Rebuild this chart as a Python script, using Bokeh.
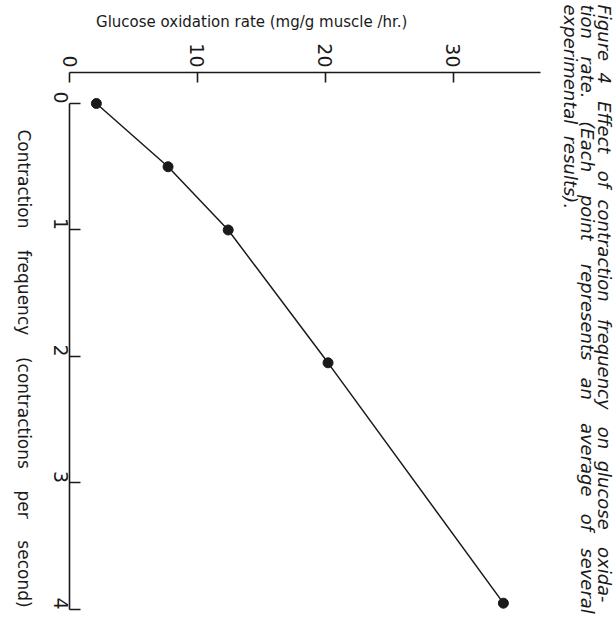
import math
from bokeh.plotting import figure
from bokeh.layouts import row, column
from bokeh.models import Range1d, Label, FixedTicker
from bokeh.embed import file_html
from bokeh.resources import INLINE

# Data
frequency = [0.0, 0.5, 1.0, 2.05, 3.95]          # contractions per second
glucose_rate = [2.1, 7.7, 12.4, 20.2, 33.9]      # mg/g muscle/hr
freq_ticks = [0, 1, 2, 3, 4]
rate_ticks = [0, 10, 20, 30]

NB = "\u00a0"
x_title = "Glucose oxidation rate (mg/g muscle /hr.)"
y_title = (" " + NB * 3).join(["Contraction", "frequency", "(contractions", "per", "second)"])


def spread(words, extras):
    out = words[0]
    for w, e in zip(words[1:], extras):
        out += " " + NB * e + w
    return out


caption = [
    spread("Figure 4 Effect of contraction frequency on glucose oxida-".split(),
           [1, 2, 2, 1, 2, 2, 1, 2, 1]),
    spread("tion rate. (Each point represents an average of several".split(),
           [2, 3, 3, 3, 2, 3, 2, 2]),
    spread("experimental results).".split(), [1]),
]

INK = "#1a1a1a"
FONT = "DejaVu Sans"

TOTAL_H = 620
LEFT_W = 38
MID_W = 517
RIGHT_W = 61
TITLE_H = 30


def pixel_fig(w, h):
    """Blank figure whose data coordinates are pixels from its top-left."""
    f = figure(width=w, height=h, output_backend="svg", toolbar_location=None,
               x_range=Range1d(0, w), y_range=Range1d(h, 0),
               x_axis_type=None, y_axis_type=None, min_border=0)
    f.outline_line_color = None
    f.grid.visible = False
    return f


# ---- main chart ----
p = figure(width=MID_W, height=TOTAL_H - TITLE_H, output_backend="svg",
           toolbar_location=None,
           x_range=Range1d(0, 36.8), y_range=Range1d(4.0, -0.245),
           x_axis_location="above", y_axis_location="left",
           min_border_left=31, min_border_top=42, min_border_right=15,
           min_border_bottom=11)
p.outline_line_color = None
p.grid.visible = False

xa = p.xaxis[0]
xa.ticker = FixedTicker(ticks=rate_ticks)
xa.minor_tick_line_color = None
xa.major_tick_in = 10
xa.major_tick_out = 0
xa.axis_line_width = 1.6
xa.major_tick_line_width = 1.6
xa.axis_line_color = INK
xa.major_tick_line_color = INK
xa.major_label_orientation = -math.pi / 2
xa.major_label_standoff = 5
xa.major_label_text_font = FONT
xa.major_label_text_font_size = "19px"
xa.major_label_text_color = INK

ya = p.yaxis[0]
ya.ticker = FixedTicker(ticks=freq_ticks)
ya.bounds = (0, 4)
ya.minor_tick_line_color = None
ya.major_tick_in = 11
ya.major_tick_out = 0
ya.axis_line_width = 1.6
ya.major_tick_line_width = 1.6
ya.axis_line_color = INK
ya.major_tick_line_color = INK
ya.major_label_orientation = -math.pi / 2
ya.major_label_standoff = 9
ya.major_label_text_font = FONT
ya.major_label_text_font_size = "19px"
ya.major_label_text_color = INK

p.line(glucose_rate, frequency, line_color=INK, line_width=1.5)
p.scatter(glucose_rate, frequency, size=10, fill_color=INK, line_color=INK)

# ---- top title strip ----
t = pixel_fig(MID_W, TITLE_H)
t.add_layout(Label(x=200, y=21, text=x_title, text_align="center",
                   text_baseline="alphabetic", text_font=FONT,
                   text_font_size="15px", text_color=INK))

# ---- left title strip ----
lf = pixel_fig(LEFT_W, TOTAL_H)
lf.add_layout(Label(x=23, y=368, text=y_title, angle=-math.pi / 2,
                    text_align="center", text_baseline="middle", text_font=FONT,
                    text_font_size="17px", text_color=INK))

# ---- right caption strip ----
rf = pixel_fig(RIGHT_W, TOTAL_H)
for i, line in enumerate(caption):
    rf.add_layout(Label(x=49 - 17 * i, y=4, text=line, angle=-math.pi / 2,
                        text_align="left", text_baseline="middle", text_font=FONT,
                        text_font_style="italic", text_font_size="18px",
                        text_color=INK))

layout = row(lf, column(t, p), rf)
open("out.html", "w").write(file_html(layout, INLINE))
